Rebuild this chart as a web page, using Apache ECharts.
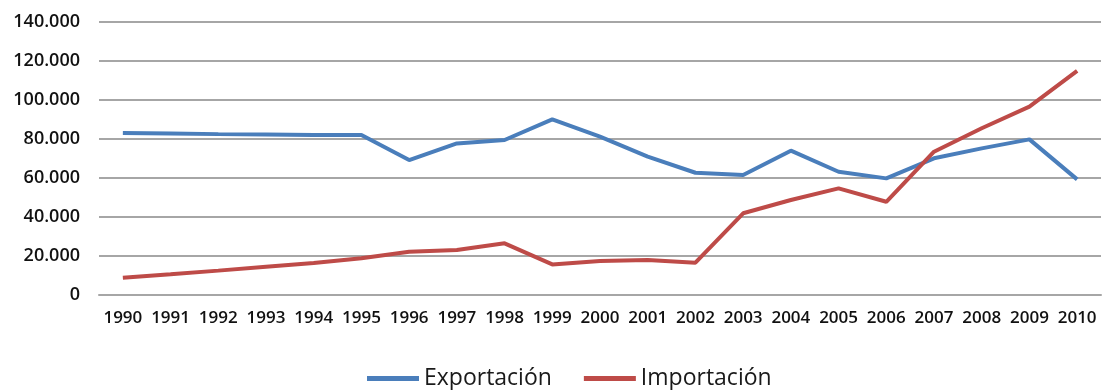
<!DOCTYPE html>
<html>
<head>
<meta charset="utf-8">
<script src="https://cdn.jsdelivr.net/npm/echarts@6/dist/echarts.min.js"></script>
<style>
  html, body { margin: 0; padding: 0; background: #fff; }
  #chart { width: 1102px; height: 390px; }
</style>
</head>
<body>
<div id="chart"></div>
<script>
// years on the category axis
const years = ['1990', '1991', '1992', '1993', '1994', '1995', '1996', '1997', '1998', '1999', '2000',
  '2001', '2002', '2003', '2004', '2005', '2006', '2007', '2008', '2009', '2010']
const exportacion = [83100, 82800, 82500, 82300, 82100, 82000, 69200, 77700, 79500, 90100, 81200,
  71000, 62700, 61500, 74000, 63200, 59800, 70100, 75200, 79800, 59300]
const importacion = [8900, 10600, 12500, 14500, 16400, 18800, 22200, 23100, 26500, 15700, 17400,
  17900, 16600, 41900, 48700, 54700, 47800, 73500, 85500, 96600, 114900]
const yTicks = [0, 20000, 40000, 60000, 80000, 100000, 120000, 140000]

const fmt = (v) => (v === 0 ? '0' : (v / 1000).toFixed(0) + '.000')

const chart = echarts.init(document.getElementById('chart'))
chart.setOption({
  animation: false,
  textStyle: { fontFamily: 'Open Sans' },
  grid: { left: 99, right: 1, top: 22, bottom: 95 },
  legend: {
    top: 362,
    left: 362,
    icon: 'rect',
    itemWidth: 52,
    itemHeight: 5,
    itemGap: 32,
    textStyle: { fontSize: 23, color: '#1a1a1a', fontFamily: 'Open Sans' },
    data: ['Exportación', 'Importación']
  },
  xAxis: {
    type: 'category',
    data: years,
    boundaryGap: true,
    axisTick: { show: false },
    axisLine: { lineStyle: { color: '#a6a6a6', width: 2 } },
    axisLabel: { color: '#111', fontSize: 17, fontWeight: 600, margin: 15, interval: 0 }
  },
  yAxis: {
    type: 'value',
    min: yTicks[0],
    max: yTicks[yTicks.length - 1],
    interval: 20000,
    axisLine: { show: false },
    axisTick: { show: false },
    axisLabel: { color: '#111', fontSize: 18, fontWeight: 600, margin: 19, formatter: fmt },
    splitLine: { lineStyle: { color: '#a6a6a6', width: 2 } }
  },
  series: [
    {
      name: 'Exportación',
      type: 'line',
      data: exportacion,
      showSymbol: false,
      color: '#4a7ebb',
      lineStyle: { width: 4 }
    },
    {
      name: 'Importación',
      type: 'line',
      data: importacion,
      showSymbol: false,
      color: '#be4b48',
      lineStyle: { width: 4 }
    }
  ]
})
</script>
</body>
</html>
